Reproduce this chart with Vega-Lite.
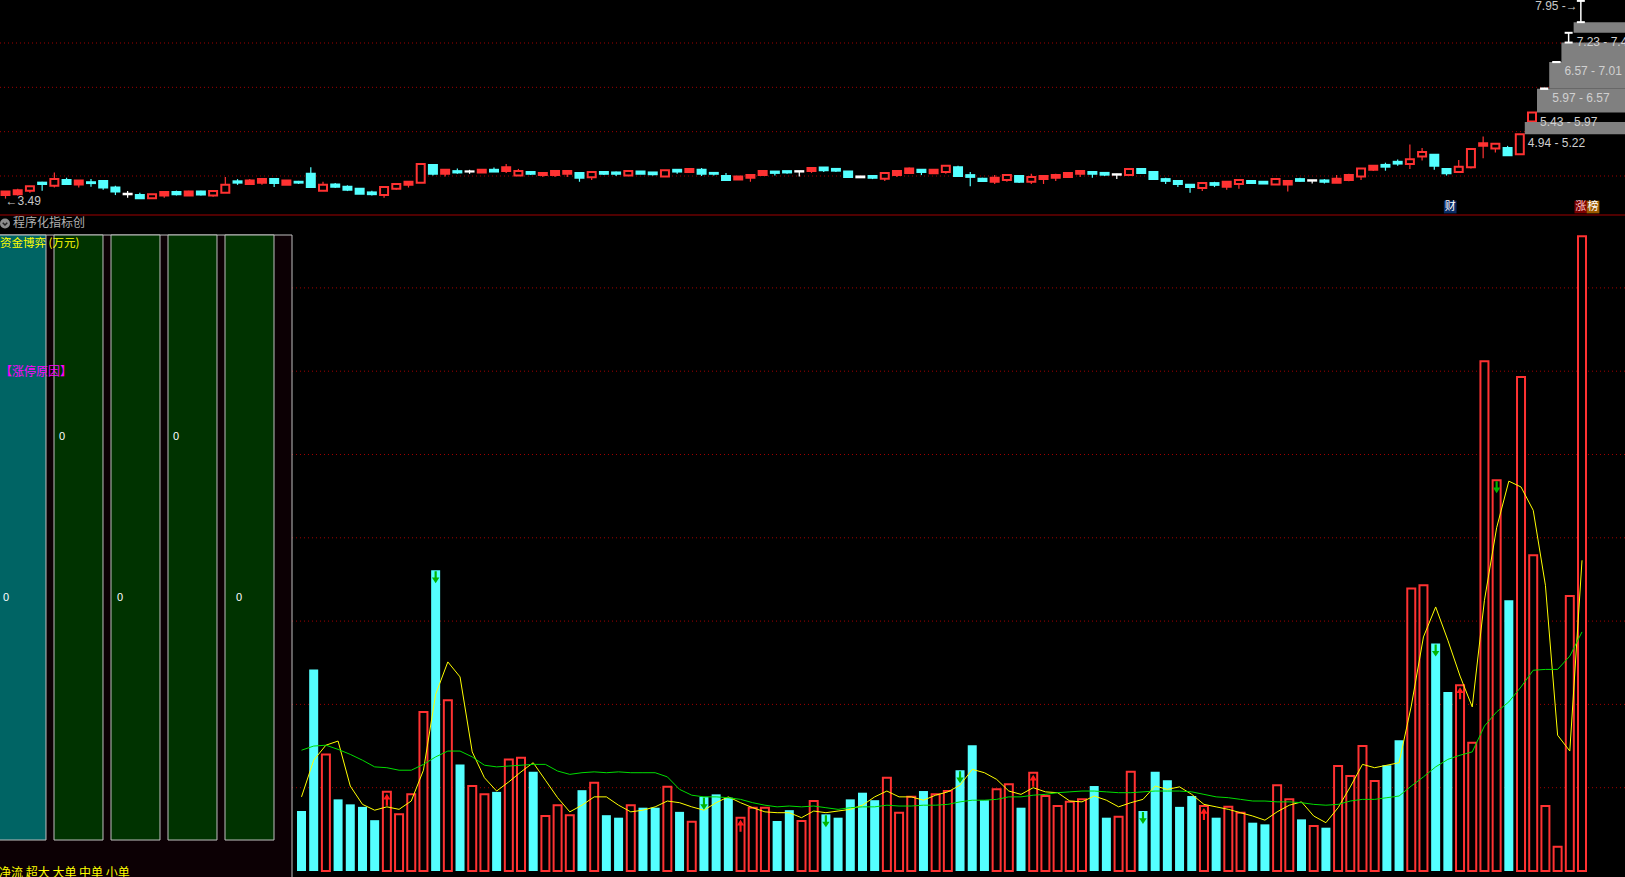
{
"$schema": "https://vega.github.io/schema/vega-lite/v6.json",
"width": 1625, "height": 877, "padding": 0,
"autosize": {"type": "none"},
"background": "#000000",
"config": {"view": {"stroke": null}, "text": {"font": "Liberation Sans", "fontSize": 12}},
"datasets": {
"candles": [
{"i":1,"o":3.65,"h":3.65,"l":3.49,"c":3.57,"k":"假阴"},
{"i":2,"o":3.68,"h":3.71,"l":3.56,"c":3.59,"k":"假阴"},
{"i":3,"o":3.67,"h":3.77,"l":3.62,"c":3.77,"k":"阳"},
{"i":4,"o":3.85,"h":3.87,"l":3.67,"c":3.82,"k":"阴"},
{"i":5,"o":3.78,"h":4.08,"l":3.74,"c":3.93,"k":"阳"},
{"i":6,"o":3.91,"h":3.96,"l":3.80,"c":3.82,"k":"阴"},
{"i":7,"o":3.90,"h":3.91,"l":3.74,"c":3.81,"k":"假阴"},
{"i":8,"o":3.86,"h":3.93,"l":3.76,"c":3.84,"k":"阴"},
{"i":9,"o":3.89,"h":3.89,"l":3.69,"c":3.74,"k":"阴"},
{"i":10,"o":3.74,"h":3.78,"l":3.57,"c":3.65,"k":"阴"},
{"i":11,"o":3.60,"h":3.66,"l":3.51,"c":3.59,"k":"平"},
{"i":12,"o":3.57,"h":3.62,"l":3.50,"c":3.50,"k":"阴"},
{"i":13,"o":3.50,"h":3.59,"l":3.50,"c":3.59,"k":"阳"},
{"i":14,"o":3.64,"h":3.64,"l":3.51,"c":3.56,"k":"假阴"},
{"i":15,"o":3.64,"h":3.67,"l":3.56,"c":3.59,"k":"阴"},
{"i":16,"o":3.65,"h":3.67,"l":3.56,"c":3.56,"k":"假阴"},
{"i":17,"o":3.65,"h":3.67,"l":3.56,"c":3.58,"k":"阴"},
{"i":18,"o":3.56,"h":3.66,"l":3.53,"c":3.66,"k":"阳"},
{"i":19,"o":3.62,"h":3.98,"l":3.62,"c":3.80,"k":"阳"},
{"i":20,"o":3.88,"h":3.93,"l":3.80,"c":3.85,"k":"阴"},
{"i":21,"o":3.90,"h":3.93,"l":3.80,"c":3.82,"k":"假阴"},
{"i":22,"o":3.93,"h":3.93,"l":3.80,"c":3.85,"k":"假阴"},
{"i":23,"o":3.93,"h":3.93,"l":3.75,"c":3.84,"k":"阴"},
{"i":24,"o":3.90,"h":3.90,"l":3.80,"c":3.80,"k":"假阴"},
{"i":25,"o":3.87,"h":3.89,"l":3.82,"c":3.85,"k":"阴"},
{"i":26,"o":4.05,"h":4.20,"l":3.73,"c":3.75,"k":"阴"},
{"i":27,"o":3.67,"h":3.87,"l":3.67,"c":3.80,"k":"阳"},
{"i":28,"o":3.81,"h":3.84,"l":3.73,"c":3.76,"k":"阴"},
{"i":29,"o":3.76,"h":3.79,"l":3.66,"c":3.69,"k":"阴"},
{"i":30,"o":3.71,"h":3.71,"l":3.60,"c":3.60,"k":"阴"},
{"i":31,"o":3.63,"h":3.67,"l":3.56,"c":3.59,"k":"阴"},
{"i":32,"o":3.57,"h":3.75,"l":3.51,"c":3.75,"k":"阳"},
{"i":33,"o":3.71,"h":3.82,"l":3.69,"c":3.82,"k":"阳"},
{"i":34,"o":3.87,"h":3.87,"l":3.74,"c":3.80,"k":"假阴"},
{"i":35,"o":3.85,"h":4.27,"l":3.84,"c":4.27,"k":"阳"},
{"i":36,"o":4.25,"h":4.25,"l":4.01,"c":4.05,"k":"阴"},
{"i":37,"o":4.14,"h":4.16,"l":3.99,"c":4.05,"k":"假阴"},
{"i":38,"o":4.11,"h":4.17,"l":4.05,"c":4.08,"k":"阴"},
{"i":39,"o":4.105,"h":4.14,"l":4.05,"c":4.10,"k":"平"},
{"i":40,"o":4.14,"h":4.15,"l":4.08,"c":4.08,"k":"假阴"},
{"i":41,"o":4.14,"h":4.19,"l":4.10,"c":4.10,"k":"阴"},
{"i":42,"o":4.20,"h":4.27,"l":4.07,"c":4.11,"k":"假阴"},
{"i":43,"o":4.01,"h":4.16,"l":4.01,"c":4.11,"k":"阳"},
{"i":44,"o":4.09,"h":4.11,"l":4.02,"c":4.05,"k":"阴"},
{"i":45,"o":4.07,"h":4.07,"l":3.98,"c":4.02,"k":"假阴"},
{"i":46,"o":4.11,"h":4.11,"l":3.98,"c":4.02,"k":"假阴"},
{"i":47,"o":4.11,"h":4.11,"l":3.98,"c":4.05,"k":"假阴"},
{"i":48,"o":4.07,"h":4.07,"l":3.87,"c":3.96,"k":"阴"},
{"i":49,"o":3.97,"h":4.11,"l":3.91,"c":4.09,"k":"阳"},
{"i":50,"o":4.09,"h":4.11,"l":4.02,"c":4.05,"k":"阴"},
{"i":51,"o":4.08,"h":4.10,"l":4.00,"c":4.05,"k":"阴"},
{"i":52,"o":4.01,"h":4.11,"l":4.01,"c":4.11,"k":"阳"},
{"i":53,"o":4.10,"h":4.11,"l":4.05,"c":4.05,"k":"阴"},
{"i":54,"o":4.08,"h":4.09,"l":4.01,"c":4.04,"k":"阴"},
{"i":55,"o":3.99,"h":4.13,"l":3.99,"c":4.13,"k":"阳"},
{"i":56,"o":4.14,"h":4.16,"l":4.05,"c":4.10,"k":"阴"},
{"i":57,"o":4.16,"h":4.16,"l":4.08,"c":4.09,"k":"假阴"},
{"i":58,"o":4.14,"h":4.18,"l":4.00,"c":4.05,"k":"阴"},
{"i":59,"o":4.07,"h":4.09,"l":4.01,"c":4.05,"k":"阴"},
{"i":60,"o":4.00,"h":4.07,"l":3.91,"c":3.91,"k":"阴"},
{"i":61,"o":3.99,"h":4.00,"l":3.92,"c":3.92,"k":"假阴"},
{"i":62,"o":4.02,"h":4.02,"l":3.87,"c":3.96,"k":"假阴"},
{"i":63,"o":4.11,"h":4.11,"l":4.02,"c":4.02,"k":"假阴"},
{"i":64,"o":4.10,"h":4.10,"l":4.01,"c":4.07,"k":"阴"},
{"i":65,"o":4.11,"h":4.11,"l":4.05,"c":4.08,"k":"阴"},
{"i":66,"o":4.11,"h":4.11,"l":3.99,"c":4.10,"k":"平"},
{"i":67,"o":4.18,"h":4.18,"l":4.07,"c":4.11,"k":"假阴"},
{"i":68,"o":4.19,"h":4.20,"l":4.09,"c":4.13,"k":"阴"},
{"i":69,"o":4.16,"h":4.18,"l":4.09,"c":4.12,"k":"阴"},
{"i":70,"o":4.10,"h":4.10,"l":3.96,"c":3.98,"k":"阴"},
{"i":71,"o":3.99,"h":3.99,"l":3.96,"c":3.97,"k":"平"},
{"i":72,"o":4.00,"h":4.02,"l":3.93,"c":3.96,"k":"阴"},
{"i":73,"o":3.94,"h":4.09,"l":3.89,"c":4.07,"k":"阳"},
{"i":74,"o":4.11,"h":4.11,"l":3.98,"c":4.02,"k":"假阴"},
{"i":75,"o":4.17,"h":4.19,"l":4.05,"c":4.07,"k":"假阴"},
{"i":76,"o":4.14,"h":4.14,"l":4.02,"c":4.09,"k":"阴"},
{"i":77,"o":4.14,"h":4.16,"l":4.05,"c":4.06,"k":"假阴"},
{"i":78,"o":4.09,"h":4.23,"l":4.05,"c":4.23,"k":"阳"},
{"i":79,"o":4.20,"h":4.23,"l":4.00,"c":4.00,"k":"阴"},
{"i":80,"o":4.02,"h":4.09,"l":3.77,"c":3.98,"k":"阴"},
{"i":81,"o":3.94,"h":3.96,"l":3.87,"c":3.89,"k":"阴"},
{"i":82,"o":3.96,"h":4.02,"l":3.82,"c":3.87,"k":"假阴"},
{"i":83,"o":3.91,"h":4.02,"l":3.87,"c":4.02,"k":"阳"},
{"i":84,"o":4.00,"h":4.00,"l":3.84,"c":3.87,"k":"阴"},
{"i":85,"o":3.87,"h":4.05,"l":3.82,"c":3.98,"k":"阳"},
{"i":86,"o":4.00,"h":4.00,"l":3.82,"c":3.93,"k":"假阴"},
{"i":87,"o":4.02,"h":4.05,"l":3.89,"c":3.96,"k":"假阴"},
{"i":88,"o":4.07,"h":4.09,"l":3.98,"c":3.98,"k":"假阴"},
{"i":89,"o":4.11,"h":4.11,"l":3.98,"c":4.05,"k":"假阴"},
{"i":90,"o":4.09,"h":4.09,"l":3.96,"c":4.05,"k":"阴"},
{"i":91,"o":4.07,"h":4.09,"l":4.00,"c":4.03,"k":"阴"},
{"i":92,"o":4.04,"h":4.05,"l":3.93,"c":4.03,"k":"平"},
{"i":93,"o":4.02,"h":4.16,"l":4.02,"c":4.16,"k":"阳"},
{"i":94,"o":4.16,"h":4.16,"l":4.05,"c":4.07,"k":"阴"},
{"i":95,"o":4.09,"h":4.09,"l":3.91,"c":3.93,"k":"阴"},
{"i":96,"o":3.93,"h":3.96,"l":3.82,"c":3.89,"k":"阴"},
{"i":97,"o":3.89,"h":3.89,"l":3.75,"c":3.82,"k":"阴"},
{"i":98,"o":3.80,"h":3.80,"l":3.62,"c":3.75,"k":"阴"},
{"i":99,"o":3.73,"h":3.84,"l":3.66,"c":3.84,"k":"阳"},
{"i":100,"o":3.84,"h":3.87,"l":3.75,"c":3.80,"k":"阴"},
{"i":101,"o":3.87,"h":3.87,"l":3.69,"c":3.76,"k":"假阴"},
{"i":102,"o":3.82,"h":3.91,"l":3.71,"c":3.91,"k":"阳"},
{"i":103,"o":3.89,"h":3.89,"l":3.84,"c":3.84,"k":"阴"},
{"i":104,"o":3.87,"h":3.87,"l":3.83,"c":3.83,"k":"阴"},
{"i":105,"o":3.81,"h":3.93,"l":3.81,"c":3.93,"k":"阳"},
{"i":106,"o":3.89,"h":3.89,"l":3.65,"c":3.81,"k":"假阴"},
{"i":107,"o":3.93,"h":3.96,"l":3.87,"c":3.89,"k":"阴"},
{"i":108,"o":3.905,"h":3.91,"l":3.83,"c":3.895,"k":"平"},
{"i":109,"o":3.90,"h":3.93,"l":3.83,"c":3.87,"k":"阴"},
{"i":110,"o":3.94,"h":4.02,"l":3.85,"c":3.85,"k":"假阴"},
{"i":111,"o":4.02,"h":4.05,"l":3.88,"c":3.91,"k":"假阴"},
{"i":112,"o":3.99,"h":4.17,"l":3.91,"c":4.17,"k":"阳"},
{"i":113,"o":4.23,"h":4.25,"l":4.11,"c":4.14,"k":"假阴"},
{"i":114,"o":4.25,"h":4.30,"l":4.12,"c":4.21,"k":"阴"},
{"i":115,"o":4.32,"h":4.37,"l":4.23,"c":4.28,"k":"阴"},
{"i":116,"o":4.27,"h":4.71,"l":4.16,"c":4.38,"k":"阳"},
{"i":117,"o":4.44,"h":4.63,"l":4.35,"c":4.54,"k":"阳"},
{"i":118,"o":4.48,"h":4.48,"l":4.14,"c":4.23,"k":"阴"},
{"i":119,"o":4.16,"h":4.16,"l":4.01,"c":4.06,"k":"阴"},
{"i":120,"o":4.09,"h":4.36,"l":4.07,"c":4.21,"k":"阳"},
{"i":121,"o":4.20,"h":4.61,"l":4.17,"c":4.61,"k":"阳"},
{"i":122,"o":4.74,"h":4.89,"l":4.40,"c":4.68,"k":"假阴"},
{"i":123,"o":4.62,"h":4.73,"l":4.53,"c":4.73,"k":"阳"},
{"i":124,"o":4.63,"h":4.68,"l":4.47,"c":4.47,"k":"阴"},
{"i":125,"o":4.49,"h":4.94,"l":4.49,"c":4.94,"k":"阳"},
{"i":126,"o":5.23,"h":5.43,"l":5.19,"c":5.43,"k":"阳"}
],
"vol": [
{"i":1,"v":0.72,"d":"跌","m3":0.89,"m20":1.45},
{"i":2,"v":2.42,"d":"跌","m3":1.33,"m20":1.50},
{"i":3,"v":1.40,"d":"涨","m3":1.51,"m20":1.51},
{"i":4,"v":0.86,"d":"跌","m3":1.56,"m20":1.46},
{"i":5,"v":0.80,"d":"跌","m3":1.02,"m20":1.40},
{"i":6,"v":0.77,"d":"跌","m3":0.80,"m20":1.33},
{"i":7,"v":0.61,"d":"跌","m3":0.73,"m20":1.25},
{"i":8,"v":0.95,"d":"涨","m3":0.77,"m20":1.24,"s":"买"},
{"i":9,"v":0.68,"d":"涨","m3":0.74,"m20":1.21},
{"i":10,"v":0.92,"d":"涨","m3":0.84,"m20":1.21},
{"i":11,"v":1.91,"d":"涨","m3":1.21,"m20":1.28},
{"i":12,"v":3.61,"d":"跌","m3":2.12,"m20":1.37,"s":"卖"},
{"i":13,"v":2.05,"d":"涨","m3":2.51,"m20":1.44},
{"i":14,"v":1.28,"d":"跌","m3":2.33,"m20":1.44},
{"i":15,"v":1.02,"d":"涨","m3":1.43,"m20":1.37},
{"i":16,"v":0.92,"d":"涨","m3":1.12,"m20":1.27},
{"i":17,"v":0.95,"d":"跌","m3":0.96,"m20":1.25},
{"i":18,"v":1.34,"d":"涨","m3":1.07,"m20":1.26},
{"i":19,"v":1.36,"d":"涨","m3":1.19,"m20":1.27},
{"i":20,"v":1.19,"d":"跌","m3":1.30,"m20":1.28},
{"i":21,"v":0.66,"d":"涨","m3":1.09,"m20":1.28},
{"i":22,"v":0.79,"d":"涨","m3":0.88,"m20":1.20},
{"i":23,"v":0.67,"d":"涨","m3":0.71,"m20":1.16},
{"i":24,"v":0.97,"d":"跌","m3":0.79,"m20":1.18},
{"i":25,"v":1.06,"d":"涨","m3":0.89,"m20":1.19},
{"i":26,"v":0.67,"d":"跌","m3":0.89,"m20":1.18},
{"i":27,"v":0.64,"d":"跌","m3":0.79,"m20":1.19},
{"i":28,"v":0.79,"d":"涨","m3":0.71,"m20":1.18},
{"i":29,"v":0.76,"d":"跌","m3":0.73,"m20":1.18},
{"i":30,"v":0.76,"d":"跌","m3":0.77,"m20":1.18},
{"i":31,"v":1.01,"d":"涨","m3":0.84,"m20":1.13},
{"i":32,"v":0.71,"d":"跌","m3":0.82,"m20":0.98},
{"i":33,"v":0.59,"d":"涨","m3":0.77,"m20":0.91},
{"i":34,"v":0.89,"d":"跌","m3":0.73,"m20":0.89,"s":"卖"},
{"i":35,"v":0.92,"d":"跌","m3":0.82,"m20":0.89},
{"i":36,"v":0.88,"d":"跌","m3":0.89,"m20":0.88},
{"i":37,"v":0.64,"d":"涨","m3":0.82,"m20":0.86,"s":"买"},
{"i":38,"v":0.76,"d":"涨","m3":0.76,"m20":0.82},
{"i":39,"v":0.76,"d":"涨","m3":0.71,"m20":0.79},
{"i":40,"v":0.60,"d":"跌","m3":0.70,"m20":0.77},
{"i":41,"v":0.73,"d":"跌","m3":0.70,"m20":0.78},
{"i":42,"v":0.60,"d":"涨","m3":0.64,"m20":0.77},
{"i":43,"v":0.84,"d":"涨","m3":0.72,"m20":0.78},
{"i":44,"v":0.68,"d":"跌","m3":0.70,"m20":0.76,"s":"卖"},
{"i":45,"v":0.64,"d":"跌","m3":0.72,"m20":0.74},
{"i":46,"v":0.86,"d":"跌","m3":0.74,"m20":0.76},
{"i":47,"v":0.94,"d":"跌","m3":0.79,"m20":0.77},
{"i":48,"v":0.85,"d":"跌","m3":0.89,"m20":0.77},
{"i":49,"v":1.12,"d":"涨","m3":0.96,"m20":0.79},
{"i":50,"v":0.70,"d":"涨","m3":0.89,"m20":0.78},
{"i":51,"v":0.89,"d":"涨","m3":0.89,"m20":0.78},
{"i":52,"v":0.96,"d":"跌","m3":0.85,"m20":0.79},
{"i":53,"v":0.92,"d":"涨","m3":0.91,"m20":0.79},
{"i":54,"v":0.96,"d":"涨","m3":0.95,"m20":0.80},
{"i":55,"v":1.21,"d":"跌","m3":1.03,"m20":0.83,"s":"卖"},
{"i":56,"v":1.51,"d":"跌","m3":1.22,"m20":0.85},
{"i":57,"v":0.85,"d":"跌","m3":1.18,"m20":0.85},
{"i":58,"v":0.98,"d":"涨","m3":1.10,"m20":0.86},
{"i":59,"v":1.04,"d":"涨","m3":0.96,"m20":0.89},
{"i":60,"v":0.76,"d":"跌","m3":0.92,"m20":0.89},
{"i":61,"v":1.18,"d":"涨","m3":1.00,"m20":0.91,"s":"买"},
{"i":62,"v":0.90,"d":"涨","m3":0.95,"m20":0.92},
{"i":63,"v":0.78,"d":"涨","m3":0.94,"m20":0.94},
{"i":64,"v":0.83,"d":"涨","m3":0.84,"m20":0.95},
{"i":65,"v":0.86,"d":"涨","m3":0.83,"m20":0.96},
{"i":66,"v":1.02,"d":"跌","m3":0.90,"m20":0.96},
{"i":67,"v":0.64,"d":"跌","m3":0.85,"m20":0.95},
{"i":68,"v":0.65,"d":"涨","m3":0.77,"m20":0.94},
{"i":69,"v":1.19,"d":"涨","m3":0.82,"m20":0.94},
{"i":70,"v":0.72,"d":"跌","m3":0.86,"m20":0.95,"s":"卖"},
{"i":71,"v":1.19,"d":"跌","m3":1.02,"m20":0.96},
{"i":72,"v":1.09,"d":"跌","m3":0.98,"m20":0.96},
{"i":73,"v":0.77,"d":"跌","m3":1.01,"m20":0.96},
{"i":74,"v":0.90,"d":"跌","m3":0.92,"m20":0.95},
{"i":75,"v":0.78,"d":"涨","m3":0.80,"m20":0.92,"s":"买"},
{"i":76,"v":0.64,"d":"跌","m3":0.77,"m20":0.89},
{"i":77,"v":0.77,"d":"涨","m3":0.74,"m20":0.88},
{"i":78,"v":0.70,"d":"涨","m3":0.70,"m20":0.86},
{"i":79,"v":0.58,"d":"跌","m3":0.66,"m20":0.84},
{"i":80,"v":0.56,"d":"跌","m3":0.61,"m20":0.84},
{"i":81,"v":1.03,"d":"涨","m3":0.71,"m20":0.83},
{"i":82,"v":0.86,"d":"涨","m3":0.79,"m20":0.83},
{"i":83,"v":0.62,"d":"跌","m3":0.83,"m20":0.82},
{"i":84,"v":0.54,"d":"涨","m3":0.66,"m20":0.80},
{"i":85,"v":0.52,"d":"跌","m3":0.58,"m20":0.79},
{"i":86,"v":1.26,"d":"涨","m3":0.76,"m20":0.80},
{"i":87,"v":1.14,"d":"涨","m3":1.01,"m20":0.84},
{"i":88,"v":1.50,"d":"涨","m3":1.28,"m20":0.86},
{"i":89,"v":1.08,"d":"涨","m3":1.24,"m20":0.86},
{"i":90,"v":1.27,"d":"跌","m3":1.27,"m20":0.88},
{"i":91,"v":1.57,"d":"跌","m3":1.30,"m20":0.90},
{"i":92,"v":3.39,"d":"涨","m3":1.98,"m20":1.02},
{"i":93,"v":3.43,"d":"涨","m3":2.81,"m20":1.13},
{"i":94,"v":2.73,"d":"跌","m3":3.17,"m20":1.25,"s":"卖"},
{"i":95,"v":2.15,"d":"跌","m3":2.77,"m20":1.34},
{"i":96,"v":2.23,"d":"涨","m3":2.34,"m20":1.39,"s":"买"},
{"i":97,"v":1.54,"d":"涨","m3":1.97,"m20":1.43},
{"i":98,"v":6.12,"d":"涨","m3":3.25,"m20":1.74},
{"i":99,"v":4.69,"d":"涨","m3":4.12,"m20":1.91,"s":"卖"},
{"i":100,"v":3.25,"d":"跌","m3":4.68,"m20":2.03},
{"i":101,"v":5.93,"d":"涨","m3":4.61,"m20":2.21},
{"i":102,"v":3.79,"d":"涨","m3":4.33,"m20":2.41},
{"i":103,"v":0.78,"d":"涨","m3":3.43,"m20":2.42},
{"i":104,"v":0.29,"d":"涨","m3":1.63,"m20":2.42},
{"i":105,"v":3.30,"d":"涨","m3":1.44,"m20":2.58},
{"i":106,"v":7.62,"d":"涨","m3":3.73,"m20":2.87}
],
"chips": [
{"from":125,"lo":4.94,"hi":5.22,"label":"4.94 - 5.22"},
{"from":126,"lo":5.43,"hi":5.97,"label":"5.43 - 5.97"},
{"from":127,"lo":5.97,"hi":6.57,"label":"5.97 - 6.57"},
{"from":128,"lo":6.57,"hi":7.01,"label":"6.57 - 7.01"},
{"from":129,"lo":7.23,"hi":7.47,"label":"7.23 - 7.47"}
],
"next": [
{"i":127,"lo":5.97,"hi":5.97},
{"i":128,"lo":6.57,"hi":6.57},
{"i":129,"lo":7.01,"hi":7.23},
{"i":130,"lo":7.47,"hi":7.95}
],
"tags": [
{"i":119.3,"t":"财"},
{"i":130,"t":"涨"},
{"i":131,"t":"榜"}
],
"pgrid": [{"p":4},{"p":5},{"p":6},{"p":7}],
"vgrid": [{"g":1},{"g":2},{"g":3},{"g":4},{"g":5},{"g":6},{"g":7}],
"flow": [
{"name":"净流","val":0},
{"name":"超大","val":0},
{"name":"大单","val":0},
{"name":"中单","val":0},
{"name":"小单","val":0}
]
},
"layer": [
{
"layer": [
{"data":{"name":"pgrid"},"mark":{"type":"rule","color":"#a00000","strokeDash":[1,3],"strokeWidth":1},
 "encoding":{"y":{"field":"p","type":"quantitative","scale":{"domain":[4,7],"range":[176,43],"zero":false,"nice":false},"axis":null}}},
{"data":{"values":[{}]},"mark":{"type":"rule","color":"#a00000","strokeWidth":1},
 "encoding":{"y":{"datum":3.12,"type":"quantitative","scale":{"domain":[4,7],"range":[176,43],"zero":false,"nice":false},"axis":null}}},
{"data":{"name":"candles"},"mark":{"type":"rule","strokeWidth":1.2},
 "encoding":{
  "x":{"field":"i","type":"quantitative","scale":{"domain":[1,126],"range":[0.5,1537],"zero":false,"nice":false},"axis":null},
  "y":{"field":"l","type":"quantitative","scale":{"domain":[4,7],"range":[176,43],"zero":false,"nice":false},"axis":null},
  "y2":{"field":"h"},
  "color":{"field":"k","type":"nominal","scale":{"domain":["阳","假阴","阴","平"],"range":["#ff3232","#ff3232","#54ffff","#ffffff"]},"legend":null}}},
{"data":{"name":"candles"},"mark":{"type":"bar","size":8,"strokeWidth":2},
 "encoding":{
  "x":{"field":"i","type":"quantitative","scale":{"domain":[1,126],"range":[0.5,1537],"zero":false,"nice":false},"axis":null},
  "y":{"field":"o","type":"quantitative","scale":{"domain":[4,7],"range":[176,43],"zero":false,"nice":false},"axis":null},
  "y2":{"field":"c"},
  "fill":{"field":"k","type":"nominal","scale":{"domain":["阳","假阴","阴","平"],"range":["#000000","#ff3232","#54ffff","#ffffff"]},"legend":null},
  "stroke":{"field":"k","type":"nominal","scale":{"domain":["阳","假阴","阴","平"],"range":["#ff3232","#ff3232","#54ffff","#ffffff"]},"legend":null}}},
{"data":{"name":"chips"},"mark":{"type":"rect","fill":"#808080","xOffset":5},
 "encoding":{
  "x":{"field":"from","type":"quantitative","scale":{"domain":[1,126],"range":[0.5,1537],"zero":false,"nice":false},"axis":null},
  "x2":{"datum":140},
  "y":{"field":"lo","type":"quantitative","scale":{"domain":[4,7],"range":[176,43],"zero":false,"nice":false},"axis":null},
  "y2":{"field":"hi"}}},
{"data":{"name":"chips"},"mark":{"type":"text","align":"left","baseline":"top","dy":4,"xOffset":8,"color":"#d0d0d0","fontSize":12},
 "encoding":{
  "x":{"field":"from","type":"quantitative","scale":{"domain":[1,126],"range":[0.5,1537],"zero":false,"nice":false},"axis":null},
  "y":{"field":"lo","type":"quantitative","scale":{"domain":[4,7],"range":[176,43],"zero":false,"nice":false},"axis":null},
  "text":{"field":"label"}}},
{"data":{"name":"next"},"mark":{"type":"rule","color":"#ffffff","strokeWidth":1.5},
 "encoding":{
  "x":{"field":"i","type":"quantitative","scale":{"domain":[1,126],"range":[0.5,1537],"zero":false,"nice":false},"axis":null},
  "y":{"field":"lo","type":"quantitative","scale":{"domain":[4,7],"range":[176,43],"zero":false,"nice":false},"axis":null},
  "y2":{"field":"hi"}}},
{"data":{"name":"next"},"mark":{"type":"tick","orient":"horizontal","size":8,"thickness":2,"color":"#ffffff","opacity":1},
 "encoding":{
  "x":{"field":"i","type":"quantitative","scale":{"domain":[1,126],"range":[0.5,1537],"zero":false,"nice":false},"axis":null},
  "y":{"field":"hi","type":"quantitative","scale":{"domain":[4,7],"range":[176,43],"zero":false,"nice":false},"axis":null}}},
{"data":{"name":"next"},"mark":{"type":"tick","orient":"horizontal","size":8,"thickness":2,"color":"#ffffff","opacity":1},
 "encoding":{
  "x":{"field":"i","type":"quantitative","scale":{"domain":[1,126],"range":[0.5,1537],"zero":false,"nice":false},"axis":null},
  "y":{"field":"lo","type":"quantitative","scale":{"domain":[4,7],"range":[176,43],"zero":false,"nice":false},"axis":null}}},
{"data":{"values":[{"i":130,"p":7.95,"t":"7.95 -→"}]},"mark":{"type":"text","align":"right","baseline":"top","dy":0,"xOffset":-3,"color":"#c8c8c8","fontSize":12},
 "encoding":{
  "x":{"field":"i","type":"quantitative","scale":{"domain":[1,126],"range":[0.5,1537],"zero":false,"nice":false},"axis":null},
  "y":{"field":"p","type":"quantitative","scale":{"domain":[4,7],"range":[176,43],"zero":false,"nice":false},"axis":null},
  "text":{"field":"t"}}},
{"data":{"values":[{"i":1,"p":3.49,"t":"←3.49"}]},"mark":{"type":"text","align":"left","baseline":"middle","dy":2,"color":"#c8c8c8","fontSize":12},
 "encoding":{
  "x":{"field":"i","type":"quantitative","scale":{"domain":[1,126],"range":[0.5,1537],"zero":false,"nice":false},"axis":null},
  "y":{"field":"p","type":"quantitative","scale":{"domain":[4,7],"range":[176,43],"zero":false,"nice":false},"axis":null},
  "text":{"field":"t"}}},
{"data":{"name":"tags"},"mark":{"type":"point","shape":"square","filled":true,"size":160,"opacity":1},
 "encoding":{
  "x":{"field":"i","type":"quantitative","scale":{"domain":[1,126],"range":[0.5,1537],"zero":false,"nice":false},"axis":null},
  "y":{"datum":3.30,"type":"quantitative","scale":{"domain":[4,7],"range":[176,43],"zero":false,"nice":false},"axis":null},
  "color":{"condition":[{"test":"datum.t === '财'","value":"#0a2c66"},{"test":"datum.t === '涨'","value":"#7a0000"}],"value":"#9c5a00"}}},
{"data":{"name":"tags"},"mark":{"type":"text","align":"center","baseline":"middle","font":"Noto Sans CJK SC","fontSize":11},
 "encoding":{
  "x":{"field":"i","type":"quantitative","scale":{"domain":[1,126],"range":[0.5,1537],"zero":false,"nice":false},"axis":null},
  "y":{"datum":3.30,"type":"quantitative","scale":{"domain":[4,7],"range":[176,43],"zero":false,"nice":false},"axis":null},
  "color":{"condition":[{"test":"datum.t === '涨'","value":"#ffc8c8"}],"value":"#ffffff"},
  "text":{"field":"t"}}}
]
},
{
"layer": [
{"data":{"name":"vgrid"},"mark":{"type":"rule","color":"#a00000","strokeDash":[1,3],"strokeWidth":1},
 "encoding":{"y":{"field":"g","type":"quantitative","scale":{"domain":[0,7],"range":[871,287.9],"nice":false},"axis":null}}},
{"data":{"name":"vol"},"transform":[{"filter":"datum.d === '跌'"}],"mark":{"type":"bar","size":9,"fill":"#54ffff"},
 "encoding":{
  "x":{"field":"i","type":"quantitative","scale":{"domain":[1,106],"range":[296.5,1587],"zero":false,"nice":false},"axis":null},
  "y":{"field":"v","type":"quantitative","scale":{"domain":[0,7],"range":[871,287.9],"nice":false},"axis":null}}},
{"data":{"name":"vol"},"transform":[{"filter":"datum.d === '涨'"}],"mark":{"type":"bar","size":8,"fill":"#000000","stroke":"#ff3232","strokeWidth":2},
 "encoding":{
  "x":{"field":"i","type":"quantitative","scale":{"domain":[1,106],"range":[296.5,1587],"zero":false,"nice":false},"axis":null},
  "y":{"field":"v","type":"quantitative","scale":{"domain":[0,7],"range":[871,287.9],"nice":false},"axis":null}}},
{"data":{"name":"vol"},"mark":{"type":"line","color":"#ffff00","strokeWidth":1},
 "encoding":{
  "x":{"field":"i","type":"quantitative","scale":{"domain":[1,106],"range":[296.5,1587],"zero":false,"nice":false},"axis":null},
  "y":{"field":"m3","type":"quantitative","scale":{"domain":[0,7],"range":[871,287.9],"nice":false},"axis":null}}},
{"data":{"name":"vol"},"mark":{"type":"line","color":"#00dd00","strokeWidth":1},
 "encoding":{
  "x":{"field":"i","type":"quantitative","scale":{"domain":[1,106],"range":[296.5,1587],"zero":false,"nice":false},"axis":null},
  "y":{"field":"m20","type":"quantitative","scale":{"domain":[0,7],"range":[871,287.9],"nice":false},"axis":null}}},
{"data":{"name":"vol"},"transform":[{"filter":"datum.s === '卖'"}],
 "mark":{"type":"point","shape":"M-0.18,-1L0.18,-1L0.18,0.05L0.62,0.05L0,1L-0.62,0.05L-0.18,0.05Z","filled":true,"size":144,"color":"#00b400","opacity":1,"yOffset":7},
 "encoding":{
  "x":{"field":"i","type":"quantitative","scale":{"domain":[1,106],"range":[296.5,1587],"zero":false,"nice":false},"axis":null},
  "y":{"field":"v","type":"quantitative","scale":{"domain":[0,7],"range":[871,287.9],"nice":false},"axis":null}}},
{"data":{"name":"vol"},"transform":[{"filter":"datum.s === '买'"}],
 "mark":{"type":"point","shape":"M-0.18,1L0.18,1L0.18,-0.05L0.62,-0.05L0,-1L-0.62,-0.05L-0.18,-0.05Z","filled":true,"size":144,"color":"#ff1a1a","opacity":1,"yOffset":8},
 "encoding":{
  "x":{"field":"i","type":"quantitative","scale":{"domain":[1,106],"range":[296.5,1587],"zero":false,"nice":false},"axis":null},
  "y":{"field":"v","type":"quantitative","scale":{"domain":[0,7],"range":[871,287.9],"nice":false},"axis":null}}}
]
},
{
"layer": [
{"data":{"values":[{}]},"mark":{"type":"rect","fill":"#0c0004","stroke":"#c0c0c0","strokeWidth":1,"x2Offset":18},
 "encoding":{
  "x":{"datum":"净流","type":"nominal","bandPosition":0,"scale":{"type":"band","domain":["净流","超大","大单","中单","小单"],"range":[-3,274],"paddingInner":0.1404,"paddingOuter":0},"axis":null},
  "x2":{"datum":"小单","bandPosition":1},
  "y":{"datum":100,"type":"quantitative","scale":{"domain":[0,100],"range":[877,235],"zero":false,"nice":false},"axis":null},
  "y2":{"datum":-5}}},
{"data":{"name":"flow"},"mark":{"type":"rect","stroke":"#c0c0c0","strokeWidth":1},
 "encoding":{
  "x":{"field":"name","type":"nominal","scale":{"type":"band","domain":["净流","超大","大单","中单","小单"],"range":[-3,274],"paddingInner":0.1404,"paddingOuter":0},"axis":null},
  "y":{"datum":100,"type":"quantitative","scale":{"domain":[0,100],"range":[877,235],"zero":false,"nice":false},"axis":null},
  "y2":{"datum":5.76},
  "fill":{"field":"name","type":"nominal","scale":{"domain":["净流","超大","大单","中单","小单"],"range":["#006464","#003300","#003300","#003300","#003300"]},"legend":null}}},
{"data":{"name":"flow"},"transform":[{"filter":"datum.name === '超大' || datum.name === '中单'"}],
 "mark":{"type":"text","align":"left","baseline":"middle","color":"#ffffff","fontSize":11,"xOffset":5},
 "encoding":{
  "x":{"field":"name","type":"nominal","bandPosition":0,"scale":{"type":"band","domain":["净流","超大","大单","中单","小单"],"range":[-3,274],"paddingInner":0.1404,"paddingOuter":0},"axis":null},
  "y":{"datum":68.5,"type":"quantitative","scale":{"domain":[0,100],"range":[877,235],"zero":false,"nice":false},"axis":null},
  "text":{"field":"val"}}},
{"data":{"name":"flow"},"transform":[{"filter":"datum.name === '净流' || datum.name === '大单'"}],
 "mark":{"type":"text","align":"left","baseline":"middle","color":"#ffffff","fontSize":11,"xOffset":6},
 "encoding":{
  "x":{"field":"name","type":"nominal","bandPosition":0,"scale":{"type":"band","domain":["净流","超大","大单","中单","小单"],"range":[-3,274],"paddingInner":0.1404,"paddingOuter":0},"axis":null},
  "y":{"datum":43.5,"type":"quantitative","scale":{"domain":[0,100],"range":[877,235],"zero":false,"nice":false},"axis":null},
  "text":{"field":"val"}}},
{"data":{"name":"flow"},"transform":[{"filter":"datum.name === '小单'"}],
 "mark":{"type":"text","align":"left","baseline":"middle","color":"#ffffff","fontSize":11,"xOffset":11},
 "encoding":{
  "x":{"field":"name","type":"nominal","bandPosition":0,"scale":{"type":"band","domain":["净流","超大","大单","中单","小单"],"range":[-3,274],"paddingInner":0.1404,"paddingOuter":0},"axis":null},
  "y":{"datum":43.5,"type":"quantitative","scale":{"domain":[0,100],"range":[877,235],"zero":false,"nice":false},"axis":null},
  "text":{"field":"val"}}},
{"data":{"values":[{}]},"mark":{"type":"point","shape":"circle","filled":true,"size":100,"color":"#8c8c8c","opacity":1,"xOffset":8},
 "encoding":{
  "x":{"datum":"净流","type":"nominal","bandPosition":0,"scale":{"type":"band","domain":["净流","超大","大单","中单","小单"],"range":[-3,274],"paddingInner":0.1404,"paddingOuter":0},"axis":null},
  "y":{"datum":101.8,"type":"quantitative","scale":{"domain":[0,100],"range":[877,235],"zero":false,"nice":false},"axis":null}}},
{"data":{"values":[{}]},"mark":{"type":"point","shape":"M-0.45,-0.15L0,0.3L0.45,-0.15","filled":false,"size":100,"stroke":"#202020","strokeWidth":1.5,"opacity":1,"xOffset":8},
 "encoding":{
  "x":{"datum":"净流","type":"nominal","bandPosition":0,"scale":{"type":"band","domain":["净流","超大","大单","中单","小单"],"range":[-3,274],"paddingInner":0.1404,"paddingOuter":0},"axis":null},
  "y":{"datum":101.8,"type":"quantitative","scale":{"domain":[0,100],"range":[877,235],"zero":false,"nice":false},"axis":null}}},
{"data":{"values":[{"t":"程序化指标创"}]},"mark":{"type":"text","align":"left","baseline":"middle","color":"#b0b0b0","font":"Noto Sans CJK SC","fontSize":12,"xOffset":16},
 "encoding":{
  "x":{"datum":"净流","type":"nominal","bandPosition":0,"scale":{"type":"band","domain":["净流","超大","大单","中单","小单"],"range":[-3,274],"paddingInner":0.1404,"paddingOuter":0},"axis":null},
  "y":{"datum":101.8,"type":"quantitative","scale":{"domain":[0,100],"range":[877,235],"zero":false,"nice":false},"axis":null},
  "text":{"field":"t"}}},
{"data":{"values":[{"t":"资金博弈 (万元)"}]},"mark":{"type":"text","align":"left","baseline":"middle","color":"#ffff00","font":"Noto Sans CJK SC","fontSize":11.5,"xOffset":3},
 "encoding":{
  "x":{"datum":"净流","type":"nominal","bandPosition":0,"scale":{"type":"band","domain":["净流","超大","大单","中单","小单"],"range":[-3,274],"paddingInner":0.1404,"paddingOuter":0},"axis":null},
  "y":{"datum":98.6,"type":"quantitative","scale":{"domain":[0,100],"range":[877,235],"zero":false,"nice":false},"axis":null},
  "text":{"field":"t"}}},
{"data":{"values":[{"t":"【涨停原因】"}]},"mark":{"type":"text","align":"left","baseline":"middle","color":"#ff00ff","font":"Noto Sans CJK SC","fontSize":12,"xOffset":3},
 "encoding":{
  "x":{"datum":"净流","type":"nominal","bandPosition":0,"scale":{"type":"band","domain":["净流","超大","大单","中单","小单"],"range":[-3,274],"paddingInner":0.1404,"paddingOuter":0},"axis":null},
  "y":{"datum":78.7,"type":"quantitative","scale":{"domain":[0,100],"range":[877,235],"zero":false,"nice":false},"axis":null},
  "text":{"field":"t"}}},
{"data":{"values":[{"t":"净流 超大 大单 中单 小单"}]},"mark":{"type":"text","align":"left","baseline":"top","color":"#ffff00","font":"Noto Sans CJK SC","fontSize":12,"xOffset":2},
 "encoding":{
  "x":{"datum":"净流","type":"nominal","bandPosition":0,"scale":{"type":"band","domain":["净流","超大","大单","中单","小单"],"range":[-3,274],"paddingInner":0.1404,"paddingOuter":0},"axis":null},
  "y":{"datum":1.4,"type":"quantitative","scale":{"domain":[0,100],"range":[877,235],"zero":false,"nice":false},"axis":null},
  "text":{"field":"t"}}}
]
}
],
"resolve": {"scale": {"x": "independent", "y": "independent", "color": "independent", "fill": "independent", "stroke": "independent"}}
}
